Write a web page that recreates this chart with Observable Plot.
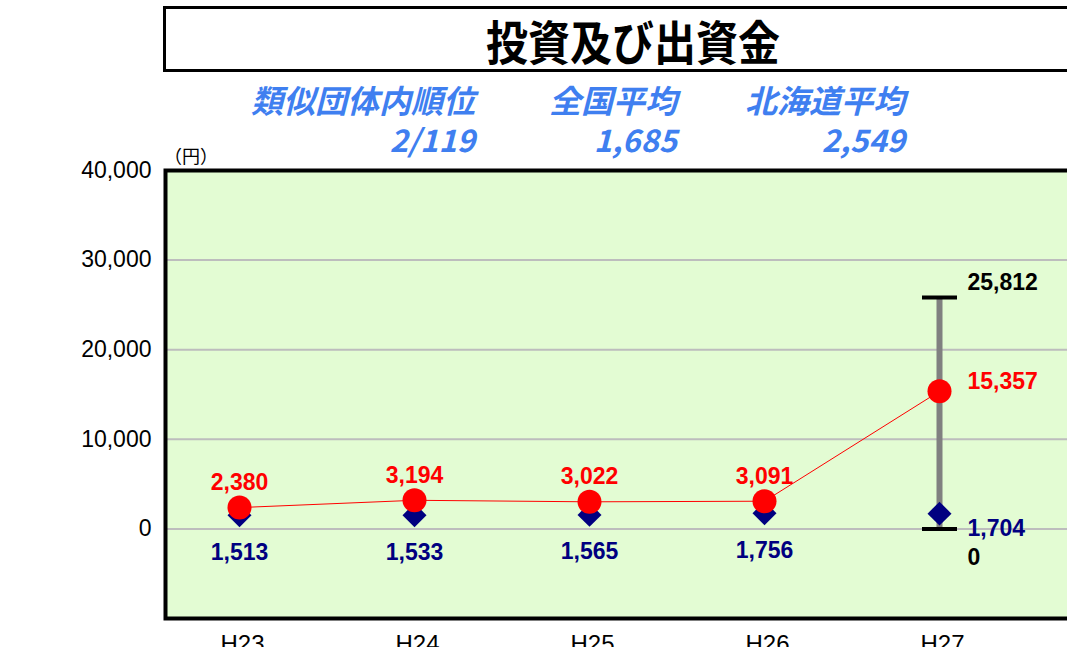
<!DOCTYPE html>
<html><head><meta charset="utf-8">
<script src="https://cdn.jsdelivr.net/npm/d3@7"></script>
<script src="https://cdn.jsdelivr.net/npm/@observablehq/plot@0.6"></script>
<style>
html,body{margin:0;padding:0;width:1067px;height:647px;overflow:hidden;background:#fff;}
#wrap{position:relative;width:1067px;height:647px;overflow:hidden;}
#chart{position:absolute;left:0;top:0;width:1100px;}
#chart svg{max-width:none !important;}
#title{position:absolute;left:163px;top:6px;width:934px;height:60px;border:3px solid #000;display:flex;align-items:center;justify-content:center;font-family:"Noto Sans CJK JP",sans-serif;font-weight:700;font-size:42px;color:#000;}
#title span{display:inline-block;transform:scaleY(1.12);}
.sub{position:absolute;font-family:"Noto Sans CJK JP",sans-serif;font-weight:700;font-style:italic;color:#3f7ff0;font-size:32px;line-height:1;white-space:nowrap;text-align:right;}
.subv{font-size:31px;}
#unit{position:absolute;left:164px;top:146px;font-family:"Noto Sans CJK JP",sans-serif;font-size:18px;line-height:1;color:#000;}
</style></head>
<body>
<div id="wrap">
  <div id="chart"></div>
  <div id="title"><span></span></div>
  <div id="unit"></div>
</div>
<script>
// ---- data ----
const chartTitle = "投資及び出資金";
const statLabels = ["類似団体内順位", "全国平均", "北海道平均"];
const statValues = ["2/119", "1,685", "2,549"];
const years = ["H23", "H24", "H25", "H26", "H27"];
const ownValues = [2380, 3194, 3022, 3091, 15357];
const avgValues = [1513, 1533, 1565, 1756, 1704];
const rangeYear = "H27";
const rangeMin = 0;
const rangeMax = 25812;
const yTicks = [0, 10000, 20000, 30000, 40000];
const gridTicks = [0, 10000, 20000, 30000];
const unitLabel = "（円）";

// ---- header ----
document.querySelector("#title span").textContent = chartTitle;
document.getElementById("unit").textContent = unitLabel;
const statRight = [592, 390, 162]; // distance from page right edge
const wrap = document.getElementById("wrap");
statLabels.forEach((s, i) => {
  const a = document.createElement("div");
  a.className = "sub"; a.textContent = s;
  a.style.right = statRight[i] + "px"; a.style.top = "83px";
  wrap.appendChild(a);
  const b = document.createElement("div");
  b.className = "sub subv"; b.textContent = statValues[i];
  b.style.right = statRight[i] + "px"; b.style.top = "123px";
  wrap.appendChild(b);
});

// ---- chart ----
const rows = years.map((y, i) => ({year: y, own: ownValues[i], avg: avgValues[i]}));
const range = [{year: rangeYear, min: rangeMin, max: rangeMax}];
const fmt = d3.format(",");
const last = rows.length - 1;
const capSymbol = {draw(ctx, size) { const r = Math.sqrt(size / Math.PI); ctx.moveTo(-r, 0); ctx.lineTo(r, 0); }};
const lblFont = {fontSize: 23, fontWeight: "bold", fontFamily: "'Liberation Sans', Arial, sans-serif"};

const plot = Plot.plot({
  width: 1100, height: 660,
  marginTop: 170, marginBottom: 42, marginLeft: 165, marginRight: 0,
  style: {background: "transparent", fontFamily: "'Liberation Sans', Arial, sans-serif", overflow: "visible", maxWidth: "none"},
  x: {type: "point", domain: years, range: [239, 939], padding: 0},
  y: {domain: [-10000, 40000]},
  marks: [
    Plot.frame({fill: "#e3fcd3", stroke: null}),
    Plot.gridY(gridTicks, {stroke: "#bdbdbd", strokeOpacity: 1, strokeWidth: 2}),
    Plot.frame({stroke: "#000", strokeWidth: 4, fill: null}),
    Plot.axisY(yTicks, {tickSize: 0, tickPadding: 14, tickFormat: d3.format(","), fontSize: 23, label: null}),
    Plot.axisX({tickSize: 0, tickPadding: 16, dx: 3, fontSize: 24, label: null}),
    Plot.ruleX(range, {x: "year", y1: "min", y2: "max", stroke: "#808080", strokeWidth: 6}),
    Plot.dot(range, {x: "year", y: "max", symbol: capSymbol, r: 17.5, stroke: "#000", strokeWidth: 4, fill: "none"}),
    Plot.dot(range, {x: "year", y: "min", symbol: capSymbol, r: 17.5, stroke: "#000", strokeWidth: 4, fill: "none"}),
    Plot.dot(rows, {x: "year", y: "avg", symbol: "diamond2", r: 10.8, fill: "#000080", stroke: null}),
    Plot.line(rows, {x: "year", y: "own", stroke: "#ff0000", strokeWidth: 1}),
    Plot.dot(rows, {x: "year", y: "own", r: 12, fill: "#ff0000", stroke: null}),
    Plot.text(rows.slice(0, last), {x: "year", y: "own", text: d => fmt(d.own), dy: -25, fill: "#ff0000", ...lblFont}),
    Plot.text(rows.slice(0, last), {x: "year", y: "avg", text: d => fmt(d.avg), dy: 37, fill: "#000080", ...lblFont}),
    Plot.text(rows.slice(last), {x: "year", y: "own", text: d => fmt(d.own), dx: 28, dy: -10, textAnchor: "start", fill: "#ff0000", ...lblFont}),
    Plot.text(rows.slice(last), {x: "year", y: "avg", text: d => fmt(d.avg), dx: 28, dy: 15, textAnchor: "start", fill: "#000080", ...lblFont}),
    Plot.text(range, {x: "year", y: "max", text: d => fmt(d.max), dx: 28, dy: -15, textAnchor: "start", fill: "#000", ...lblFont}),
    Plot.text(range, {x: "year", y: "min", text: d => fmt(d.min), dx: 28, dy: 29, textAnchor: "start", fill: "#000", ...lblFont})
  ]
});
document.getElementById("chart").appendChild(plot);
</script>
</body></html>
